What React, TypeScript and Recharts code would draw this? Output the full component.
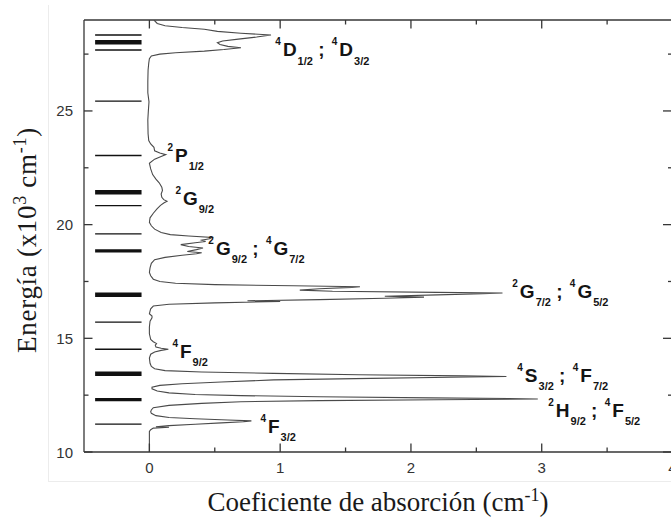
import React from 'react';
import { ScatterChart, Scatter, XAxis, YAxis, ReferenceLine, ReferenceDot } from 'recharts';

// Absorption spectrum: energy (x10^3 cm^-1) and absorption coefficient (cm^-1)
const energies = [
  10.0, 10.5, 10.9, 10.98, 11.05, 11.09, 11.11, 11.16, 11.22, 11.28, 11.33, 11.37, 11.41, 11.46, 11.52, 11.6,
  11.7, 11.77, 11.85, 11.95, 12.05, 12.14, 12.21, 12.26, 12.3, 12.33, 12.355, 12.38, 12.43, 12.48, 12.53, 12.6,
  12.68, 12.78, 12.85, 12.93, 13.0, 13.08, 13.17, 13.24, 13.29, 13.32, 13.35, 13.4, 13.46, 13.52, 13.58, 13.66,
  13.76, 13.9, 14.13, 14.3, 14.4, 14.47, 14.52, 14.56, 14.62, 14.7, 14.77, 14.85, 14.95, 15.2, 15.5, 15.75,
  15.9, 15.98, 16.08, 16.2, 16.3, 16.42, 16.5, 16.56, 16.62, 16.65, 16.7, 16.76, 16.81, 16.85, 16.91, 16.96,
  16.99, 17.02, 17.07, 17.12, 17.18, 17.24, 17.27, 17.31, 17.36, 17.42, 17.5, 17.6, 17.75, 17.9, 18.1, 18.3,
  18.46, 18.56, 18.65, 18.72, 18.76, 18.82, 18.9, 18.97, 19.04, 19.12, 19.2, 19.26, 19.32, 19.38, 19.44, 19.5,
  19.56, 19.65, 19.8, 19.95, 20.1, 20.3, 20.5, 20.7, 20.85, 20.95, 21.03, 21.1, 21.2, 21.35, 21.5, 21.65,
  21.84, 22.0, 22.2, 22.45, 22.7, 22.88, 23.0, 23.08, 23.15, 23.25, 23.4, 23.55, 23.7, 24.0, 24.6, 25.0,
  25.4, 25.8, 26.3, 26.8, 27.1, 27.3, 27.42, 27.5, 27.56, 27.63, 27.7, 27.78, 27.84, 27.92, 28.0, 28.08,
  28.16, 28.25, 28.34, 28.42, 28.5, 28.59, 28.67, 28.75, 28.85, 29.0,
];
const absorption = [
  0.0, 0.0, 0.0, 0.01, 0.03, 0.15, 0.05, 0.15, 0.35, 0.55, 0.72, 0.78, 0.6, 0.35, 0.15, 0.05,
  0.015, 0.01, 0.015, 0.03, 0.15, 0.4, 0.7, 1.3, 2.2, 2.97, 2.75, 2.15, 1.3, 0.7, 0.35, 0.15,
  0.06, 0.02, 0.02, 0.08, 0.25, 0.55, 0.95, 1.7, 2.3, 2.73, 2.4, 1.6, 0.95, 0.4, 0.12, 0.04,
  0.015, 0.005, 0.0, 0.01, 0.04, 0.09, 0.145, 0.09, 0.05, 0.045, 0.055, 0.03, 0.01, 0.0, 0.0, 0.005,
  0.02, 0.02, 0.0, 0.005, 0.01, 0.03, 0.15, 0.5, 1.0, 0.75, 1.3, 1.8, 2.1, 1.8, 2.2, 2.55,
  2.7, 2.2, 1.4, 1.15, 1.3, 1.55, 1.61, 1.1, 0.5, 0.2, 0.08, 0.03, 0.01, 0.0, 0.005, 0.015,
  0.04, 0.12, 0.25, 0.36, 0.4, 0.29, 0.36, 0.41, 0.3, 0.24, 0.35, 0.43, 0.4, 0.46, 0.48, 0.3,
  0.16, 0.09, 0.04, 0.015, 0.0, 0.005, 0.03, 0.06, 0.085, 0.11, 0.135, 0.11, 0.095, 0.09, 0.1, 0.095,
  0.075, 0.05, 0.025, 0.01, 0.0, 0.04, 0.09, 0.125, 0.08, 0.04, 0.035, 0.01, -0.005, -0.01, -0.012, -0.008,
  -0.003, -0.012, -0.012, -0.01, -0.005, 0.0, 0.015, 0.08, 0.2, 0.42, 0.57, 0.7, 0.6, 0.54, 0.52, 0.56,
  0.68, 0.82, 0.93, 0.7, 0.52, 0.42, 0.25, 0.12, 0.06, 0.035,
];

// Energy levels shown on the left of the spectrum
const levelEnergies = [28.34, 28.02, 27.68, 25.43, 23.04, 21.42, 20.84, 19.59, 18.85, 16.92, 15.71, 14.52, 13.44, 12.3, 11.23];
const levelWeights = [1.3, 4.5, 1.3, 1.3, 1.3, 4.5, 1.3, 1.3, 3.2, 4.5, 1.3, 1.3, 4.5, 3.2, 1.3];
const levelStart = -0.415;
const levelEnd = -0.06;

// Term labels: [superscript, letter, subscript] groups, anchored at (absorption, energy)
const labelX = [0.963, 0.138, 0.199, 0.451, 2.775, 0.176, 2.813, 3.05, 0.849];
const labelY = [27.41, 22.76, 20.88, 18.68, 16.78, 14.14, 13.08, 11.54, 10.84];
const labelTerms: string[][][] = [
  [['4', 'D', '1/2'], ['4', 'D', '3/2']],
  [['2', 'P', '1/2']],
  [['2', 'G', '9/2']],
  [['2', 'G', '9/2'], ['4', 'G', '7/2']],
  [['2', 'G', '7/2'], ['4', 'G', '5/2']],
  [['4', 'F', '9/2']],
  [['4', 'S', '3/2'], ['4', 'F', '7/2']],
  [['2', 'H', '9/2'], ['4', 'F', '5/2']],
  [['4', 'F', '3/2']],
];

// Axis ticks
const xTicks = [0, 0.5, 1, 1.5, 2, 2.5, 3, 3.5, 4];
const yTicks = [10, 12.5, 15, 17.5, 20, 22.5, 25, 27.5];
const xDomain = [-0.5, 4];
const yDomain = [10, 29];

const spectrum = energies.map((e, i) => ({ e, a: absorption[i] }));

const AXIS_COLOR = '#363636';
const SANS = '"Liberation Sans", Arial, Helvetica, sans-serif';
const SERIF = '"Liberation Serif", "Times New Roman", Times, serif';

const isMajor = (v: number) => Number.isInteger(v);

const BottomTick = (props: any) => {
  const { x, y, payload } = props;
  const v = payload.value;
  const len = isMajor(v) ? 8.5 : 4.5;
  return (
    <g>
      <line x1={x} x2={x} y1={y} y2={y - len} stroke={AXIS_COLOR} strokeWidth={1.3} />
      {isMajor(v) && (
        <text x={x} y={y + 21} textAnchor="middle" fontFamily={SANS} fontSize={15} fill="#333">
          {v}
        </text>
      )}
    </g>
  );
};

const TopTick = (props: any) => {
  const { x, y, payload } = props;
  const len = isMajor(payload.value) ? 8.5 : 4.5;
  return <line x1={x} x2={x} y1={y} y2={y + len} stroke={AXIS_COLOR} strokeWidth={1.3} />;
};

const LeftTick = (props: any) => {
  const { x, y, payload } = props;
  const v = payload.value;
  const major = v % 5 === 0;
  const len = major ? 8.5 : 4.5;
  return (
    <g>
      <line x1={x} x2={x + len} y1={y} y2={y} stroke={AXIS_COLOR} strokeWidth={1.3} />
      {major && (
        <text x={x - 11} y={y} dy={5.5} textAnchor="end" fontFamily={SANS} fontSize={15} fill="#333">
          {v}
        </text>
      )}
    </g>
  );
};

const RightTick = (props: any) => {
  const { x, y, payload } = props;
  const len = payload.value % 5 === 0 ? 9.5 : 4.5;
  return <line x1={x} x2={x - len} y1={y} y2={y} stroke={AXIS_COLOR} strokeWidth={1.3} />;
};

const TermText = ({ cx, cy, terms }: { cx: number; cy: number; terms: string[][] }) => (
  <text x={cx} y={cy} fontFamily={SANS} fontWeight="bold" fill="#141414" style={{ whiteSpace: 'pre' }}>
    {terms.map(([sup, main, sub], i) => (
      <React.Fragment key={i}>
        {i > 0 && (
          <tspan fontSize={19} dy={-8.5}>
            {' ; '}
          </tspan>
        )}
        <tspan fontSize={10} dx={i > 0 ? 2 : 0} dy={-11}>
          {sup}
        </tspan>
        <tspan fontSize={19} dx={2} dy={11}>
          {main}
        </tspan>
        <tspan fontSize={11} dx={1} dy={8.5}>
          {sub}
        </tspan>
      </React.Fragment>
    ))}
  </text>
);

const NoPoint = () => null;

export default function App() {
  return (
    <div style={{ position: 'absolute', left: 0, top: 0, width: 671, height: 520, overflow: 'hidden', background: '#fff' }}>
      <div
        style={{
          position: 'absolute',
          left: 48,
          top: 5,
          width: 700,
          height: 476,
          borderLeft: '1px solid #ececec',
          borderBottom: '1px solid #ececec',
        }}
      />
      <div style={{ position: 'absolute', left: 0, top: 0 }}>
        <ScatterChart width={680} height={520} margin={{ top: 19, right: 6.5, bottom: 67, left: 83 }}>
          <XAxis
            type="number"
            dataKey="a"
            domain={xDomain}
            allowDataOverflow
            ticks={xTicks}
            interval={0}
            height={1}
            tickSize={0}
            tickMargin={0}
            tickLine={false}
            tick={<BottomTick />}
            axisLine={{ stroke: AXIS_COLOR, strokeWidth: 1.3 }}
          />
          <XAxis
            xAxisId="top"
            orientation="top"
            type="number"
            dataKey="a"
            domain={xDomain}
            allowDataOverflow
            ticks={xTicks}
            interval={0}
            height={1}
            tickSize={0}
            tickMargin={0}
            tickLine={false}
            tick={<TopTick />}
            axisLine={{ stroke: AXIS_COLOR, strokeWidth: 1.3 }}
          />
          <YAxis
            type="number"
            dataKey="e"
            domain={yDomain}
            allowDataOverflow
            ticks={yTicks}
            interval={0}
            width={1}
            tickSize={0}
            tickMargin={0}
            tickLine={false}
            tick={<LeftTick />}
            axisLine={{ stroke: AXIS_COLOR, strokeWidth: 1.3 }}
          />
          <YAxis
            yAxisId="right"
            orientation="right"
            type="number"
            dataKey="e"
            domain={yDomain}
            allowDataOverflow
            ticks={yTicks}
            interval={0}
            width={1}
            tickSize={0}
            tickMargin={0}
            tickLine={false}
            tick={<RightTick />}
            axisLine={{ stroke: AXIS_COLOR, strokeWidth: 1.3 }}
          />
          {levelEnergies.map((e, i) => (
            <ReferenceLine
              key={`lvl-${i}`}
              segment={[
                { x: levelStart, y: e },
                { x: levelEnd, y: e },
              ]}
              stroke="#111"
              strokeWidth={levelWeights[i]}
              ifOverflow="visible"
            />
          ))}
          <Scatter
            data={spectrum}
            line={{ stroke: '#4a4a4a', strokeWidth: 1.1 }}
            lineType="joint"
            shape={NoPoint}
            isAnimationActive={false}
          />
          {labelTerms.map((terms, i) => (
            <ReferenceDot
              key={`lbl-${i}`}
              x={labelX[i]}
              y={labelY[i]}
              r={0}
              ifOverflow="visible"
              shape={(p: any) => <TermText cx={p.cx} cy={p.cy} terms={terms} />}
            />
          ))}
        </ScatterChart>
      </div>
      <svg width={671} height={520} style={{ position: 'absolute', left: 0, top: 0, pointerEvents: 'none' }}>
        <text
          x={36}
          y={240}
          transform="rotate(-90 36 240)"
          textAnchor="middle"
          fontFamily={SERIF}
          fontSize={27}
          letterSpacing={0.7}
          fill="#1a1a1a"
        >
          Energía (x10
          <tspan fontSize={18} dy={-10}>3</tspan>
          <tspan dy={10}> cm</tspan>
          <tspan fontSize={18} dy={-10}>-1</tspan>
          <tspan dy={10}>)</tspan>
        </text>
        <text x={378} y={511} textAnchor="middle" fontFamily={SERIF} fontSize={27} fill="#1a1a1a">
          Coeficiente de absorción (cm
          <tspan fontSize={18} dy={-10}>-1</tspan>
          <tspan dy={10}>)</tspan>
        </text>
      </svg>
    </div>
  );
}
